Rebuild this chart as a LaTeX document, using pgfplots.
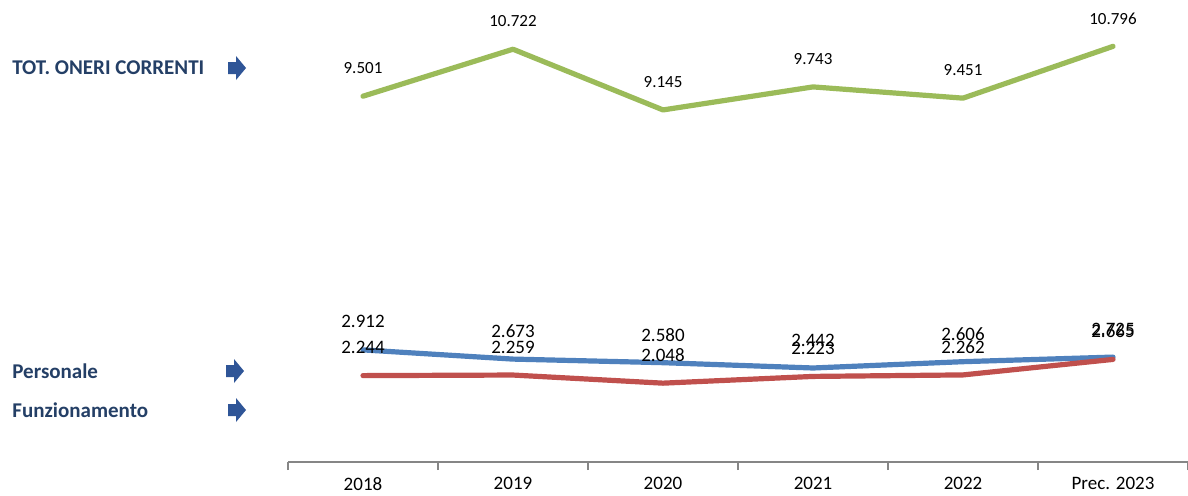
\documentclass[border=0pt]{standalone}
\usepackage{pgfplots}
\pgfplotsset{compat=1.18}
\usepackage{fontspec}
\setmainfont{Carlito}
\definecolor{cgreen}{HTML}{9BBB59}
\definecolor{cblue}{HTML}{4F81BD}
\definecolor{cred}{HTML}{C0504D}
\definecolor{navy}{HTML}{243F66}
\definecolor{arrowblue}{HTML}{2F5597}
\definecolor{axgray}{HTML}{868686}
\begin{document}
\begin{tikzpicture}
\useasboundingbox (0,0) rectangle (594pt,247.5pt);
\begin{axis}[at={(144pt,16.5pt)}, anchor=south west, scale only axis,
  width=450pt, height=231pt,
  xmin=-0.5, xmax=5.5, ymin=0, ymax=12,
  clip=false,
  hide y axis, axis x line*=bottom,
  xtick={0,...,5}, xticklabels={2018,2019,2020,2021,2022,Prec. 2023},
  major tick length=0pt,
  minor xtick={-0.5,0.5,...,5.5}, minor tick length=4pt, tick align=outside,
  x axis line style={axgray, line width=1.2pt},
  every tick/.style={axgray, line width=1pt},
  xticklabel style={font=\fontsize{9.5}{11}\selectfont, text=black, yshift=-4pt},
  /pgf/number format/.cd, fixed, fixed zerofill, precision=3, assume math mode=true,
  /pgfplots/.cd,
  nodes near coords,
  every node near coord/.append style={anchor=center, yshift=14pt, text=black, font=\fontsize{9.5}{11}\selectfont},
]
\addplot[cblue, line width=2.6pt, line cap=round, line join=round] coordinates {
 (0,2.912) (1,2.673) (2,2.580) (3,2.442) (4,2.606) (5,2.725)};
\addplot[cred, line width=2.6pt, line cap=round, line join=round] coordinates {
 (0,2.244) (1,2.259) (2,2.048) (3,2.223) (4,2.262) (5,2.665)};
\addplot[cgreen, line width=2.6pt, line cap=round, line join=round,
  every node near coord/.append style={font=\fontsize{8.5}{10}\selectfont}] coordinates {
 (0,9.501) (1,10.722) (2,9.145) (3,9.743) (4,9.451) (5,10.796)};
\end{axis}
\node[anchor=west, inner sep=0, text=navy, font=\bfseries\fontsize{10.5}{12}\selectfont] at (6pt,213.5pt) {TOT. ONERI CORRENTI};
\node[anchor=west, inner sep=0, text=navy, font=\bfseries\fontsize{10.5}{12}\selectfont] at (6pt,62pt) {Personale};
\node[anchor=west, inner sep=0, text=navy, font=\bfseries\fontsize{10.5}{12}\selectfont] at (6pt,42.5pt) {Funzionamento};
\foreach \x/\y in {118.5/213.5, 117.5/62, 118.5/42.5}
  \fill[arrowblue] ([shift={(-4.5pt,-3pt)}]\x pt,\y pt) -- ++(4pt,0) -- ++(0,-3pt) -- ++(5pt,6pt)
     -- ++(-5pt,6pt) -- ++(0,-3pt) -- ++(-4pt,0) -- cycle;
\end{tikzpicture}
\end{document}
